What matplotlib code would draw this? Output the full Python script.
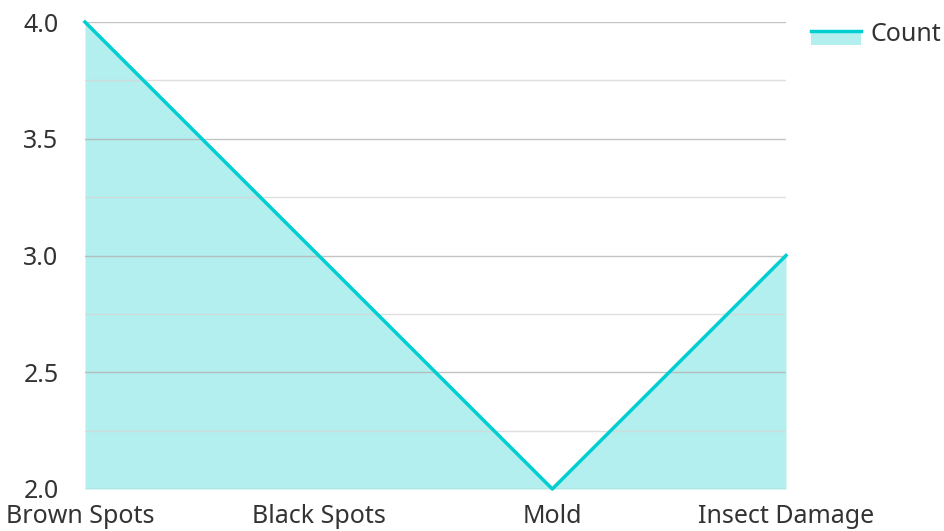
import matplotlib
matplotlib.use("Agg")
import matplotlib.pyplot as plt
from matplotlib.lines import Line2D
from matplotlib.patches import Rectangle, Patch
from matplotlib.ticker import MultipleLocator, FormatStrFormatter
from matplotlib.transforms import ScaledTranslation

plt.rcParams['font.family'] = ['Noto Sans', 'DejaVu Sans']

categories = ['Brown Spots', 'Black Spots', 'Mold', 'Insect Damage']
counts = [4, 3, 2, 3]

line_color = '#00CED1'
fill_color = '#B2EFEE'


class FillLineHandler:
    # legend key: filled band with the line along its top edge
    def legend_artist(self, legend, orig_handle, fontsize, handlebox):
        x0, y0 = handlebox.xdescent, handlebox.ydescent
        w = handlebox.width
        top = y0 + 7.9
        rect = Rectangle((x0, y0 - 3.2), w, 11.1, facecolor=fill_color,
                         edgecolor='none', transform=handlebox.get_transform())
        ln = Line2D([x0, x0 + w], [top - 0.8, top - 0.8], color=line_color, lw=2.5,
                    transform=handlebox.get_transform())
        handlebox.add_artist(rect)
        handlebox.add_artist(ln)
        return rect


fig = plt.figure(figsize=(9.44, 5.31), dpi=100)
ax = fig.add_axes([85 / 944, 42 / 531, 701 / 944, 467 / 531])

x = range(len(categories))
ax.fill_between(x, counts, 2, color=fill_color, lw=0, zorder=1)
ax.plot(x, counts, color=line_color, lw=2.5, zorder=3, clip_on=False)

ax.set_xlim(0, len(categories) - 1)
ax.set_ylim(2, 4)
ax.set_xticks(list(x))
ax.set_xticklabels(categories)
ax.yaxis.set_major_locator(MultipleLocator(0.5))
ax.yaxis.set_minor_locator(MultipleLocator(0.25))
ax.yaxis.set_major_formatter(FormatStrFormatter('%.1f'))

ax.set_axisbelow(False)
ax.grid(axis='y', which='major', color='#b4b4b4', lw=1, alpha=0.8, zorder=2)
ax.grid(axis='y', which='minor', color='#d8d8d8', lw=1, alpha=0.8, zorder=2)
for s in ax.spines.values():
    s.set_visible(False)
ax.tick_params(axis='both', which='both', length=0, labelsize=18, colors='#333333')
ax.tick_params(axis='y', pad=19)
ax.tick_params(axis='x', pad=11)

# first label is pushed in a little so it stays on the canvas
first = ax.get_xticklabels()[0]
first.set_transform(first.get_transform() + ScaledTranslation(-5 / 100, 0, fig.dpi_scale_trans))

leg = ax.legend(handles=[Patch(label='Count')], handler_map={Patch: FillLineHandler()},
                loc='upper left', bbox_to_anchor=(811 / 944, 1 - 22 / 531),
                bbox_transform=fig.transFigure, frameon=False, fontsize=18,
                handlelength=2.0, handleheight=0.7, handletextpad=0.4,
                borderpad=0, borderaxespad=0)
for t in leg.get_texts():
    t.set_color('#333333')

fig.savefig('out.png', dpi=100)
